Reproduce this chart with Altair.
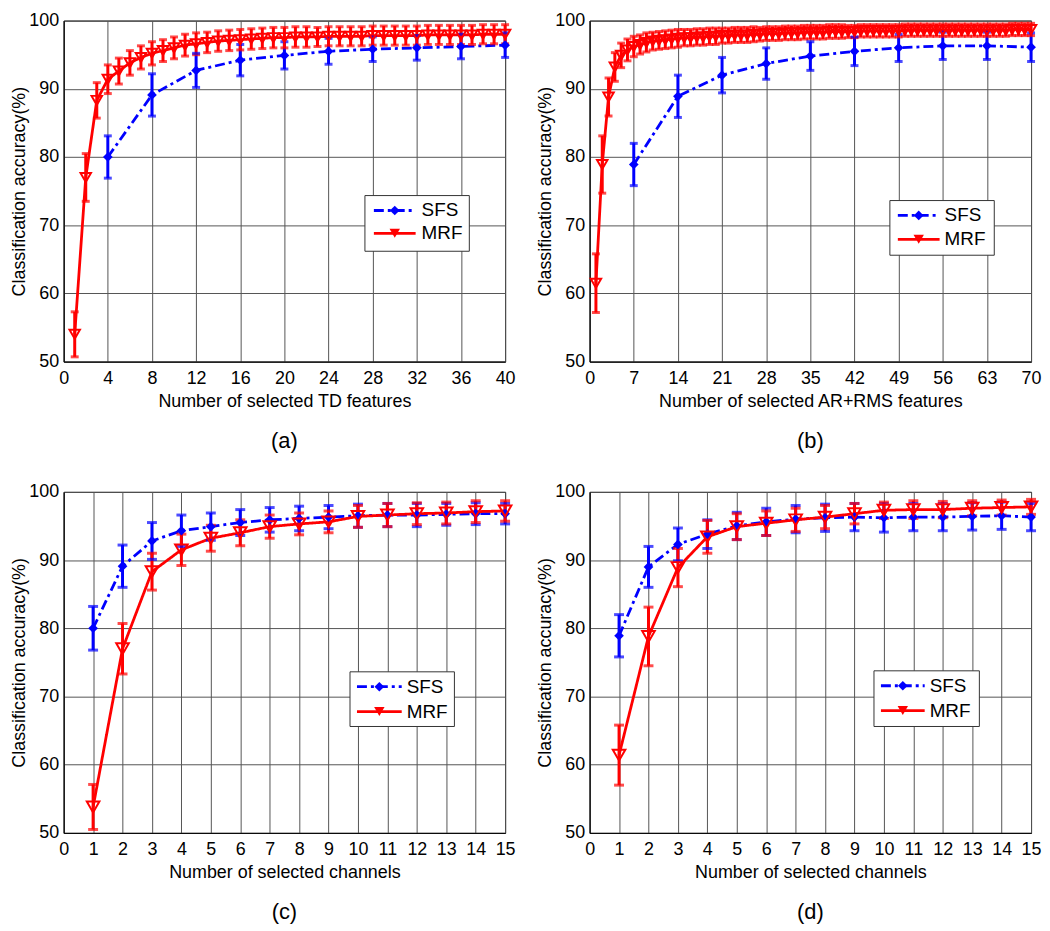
import altair as alt
import pandas as pd

FONT = "Liberation Sans"
BLUE = "#0000FF"
RED = "#FF0000"

# ---------------- panel (a): TD features ----------------
a_sfs_x = [4, 8, 12, 16, 20, 24, 28, 32, 36, 40]
a_sfs_y = [80.0, 89.1, 92.7, 94.2, 94.9, 95.5, 95.8, 96.0, 96.2, 96.4]
a_sfs_e = [3.1, 3.1, 2.5, 2.3, 2.0, 1.9, 1.8, 1.8, 1.8, 1.8]
a_mrf_x = list(range(1, 41))
a_mrf_y = [54.0, 77.0, 88.3, 91.4, 92.6, 93.8, 94.6, 95.2, 95.6, 96.0,
           96.4, 96.6, 96.8, 97.0, 97.1, 97.2, 97.3, 97.4, 97.5, 97.5,
           97.6, 97.6, 97.6, 97.7, 97.7, 97.7, 97.7, 97.8, 97.8, 97.8,
           97.8, 97.8, 97.9, 97.9, 97.9, 97.9, 97.9, 98.0, 98.0, 98.0]
a_mrf_e = [3.3, 3.5, 2.6, 2.1, 1.9, 1.8, 1.7, 1.7, 1.6, 1.6,
           1.6, 1.6, 1.5, 1.5, 1.5, 1.5, 1.5, 1.5, 1.5, 1.5,
           1.5, 1.5, 1.4, 1.4, 1.4, 1.4, 1.4, 1.4, 1.4, 1.4,
           1.4, 1.4, 1.4, 1.4, 1.4, 1.4, 1.4, 1.4, 1.4, 1.4]

# ---------------- panel (b): AR+RMS features ----------------
b_sfs_x = [7, 14, 21, 28, 35, 42, 49, 56, 63, 70]
b_sfs_y = [78.9, 88.9, 92.0, 93.7, 94.8, 95.5, 96.0, 96.3, 96.3, 96.1]
b_sfs_e = [3.1, 3.1, 2.6, 2.3, 2.1, 2.1, 2.0, 2.0, 2.0, 2.1]
b_mrf_x = list(range(1, 71))
b_mrf_y = [61.5, 78.9, 88.8, 93.2, 94.9, 95.7, 96.2, 96.5, 96.8, 97.0,
           97.1, 97.2, 97.3, 97.4, 97.5, 97.5, 97.6, 97.6, 97.7, 97.7,
           97.8, 97.8, 97.9, 97.9, 97.9, 98.0, 98.0, 98.1, 98.1, 98.1,
           98.2, 98.2, 98.2, 98.3, 98.3, 98.3, 98.3, 98.4, 98.4, 98.4,
           98.4, 98.4, 98.5, 98.5, 98.5, 98.5, 98.5, 98.5, 98.5, 98.6,
           98.6, 98.6, 98.6, 98.6, 98.6, 98.6, 98.6, 98.6, 98.6, 98.6,
           98.6, 98.6, 98.6, 98.6, 98.6, 98.6, 98.7, 98.7, 98.7, 98.7]
b_mrf_e = [4.3, 4.2, 2.8, 2.1, 1.8, 1.6, 1.5, 1.4, 1.4, 1.3,
           1.3, 1.3, 1.3, 1.3, 1.2, 1.2, 1.2, 1.2, 1.2, 1.2,
           1.1, 1.1, 1.1, 1.1, 1.1, 1.1, 1.0, 1.0, 1.0, 1.0,
           1.0, 1.0, 1.0, 1.0, 1.0, 1.0, 1.0, 1.0, 1.0, 1.0,
           0.9, 0.9, 0.9, 0.9, 0.9, 0.9, 0.9, 0.9, 0.9, 0.9,
           0.9, 0.9, 0.9, 0.9, 0.9, 0.9, 0.9, 0.9, 0.9, 0.9,
           0.9, 0.9, 0.9, 0.9, 0.9, 0.9, 0.9, 0.9, 0.9, 0.9]

# ---------------- panel (c): channels (TD) ----------------
c_x = list(range(1, 16))
c_sfs_y = [80.0, 89.1, 92.8, 94.3, 94.9, 95.5, 95.9, 96.1, 96.3, 96.5, 96.6, 96.6, 96.7, 96.8, 96.8]
c_sfs_e = [3.2, 3.1, 2.7, 2.3, 2.0, 1.9, 1.8, 1.8, 1.7, 1.7, 1.7, 1.7, 1.6, 1.6, 1.5]
c_mrf_y = [53.8, 77.0, 88.3, 91.5, 93.2, 94.0, 94.9, 95.3, 95.6, 96.4, 96.6, 96.8, 96.9, 97.1, 97.2]
c_mrf_e = [3.3, 3.7, 2.7, 2.3, 1.9, 1.9, 1.7, 1.6, 1.6, 1.6, 1.7, 1.6, 1.6, 1.6, 1.5]

# ---------------- panel (d): channels (AR+RMS) ----------------
d_x = list(range(1, 16))
d_sfs_y = [78.9, 89.0, 92.3, 93.8, 95.0, 95.6, 96.0, 96.2, 96.3, 96.2, 96.3, 96.3, 96.4, 96.5, 96.3]
d_sfs_e = [3.1, 3.0, 2.4, 2.1, 2.0, 2.0, 2.0, 2.0, 2.0, 2.1, 2.0, 2.0, 2.0, 2.0, 2.0]
d_mrf_y = [61.4, 78.8, 88.9, 93.4, 94.9, 95.4, 95.9, 96.3, 96.8, 97.3, 97.4, 97.4, 97.6, 97.7, 97.8]
d_mrf_e = [4.4, 4.3, 2.8, 2.4, 1.9, 1.8, 1.7, 1.7, 1.5, 1.2, 1.3, 1.2, 1.1, 1.1, 1.1]

y_ticks = [50, 60, 70, 80, 90, 100]
series_names = ["SFS", "MRF"]

W, H = 444, 343
one = pd.DataFrame({"k": [0]})


def frame(name, xs, ys, es):
    return pd.DataFrame({
        "series": name,
        "x": xs,
        "y": ys,
        "lo": [v - e for v, e in zip(ys, es)],
        "hi": [v + e for v, e in zip(ys, es)],
    })


def panel(sfs, mrf, xmax, xstep, xtitle, label, leg, cap, tri):
    df = pd.concat([frame("SFS", *sfs), frame("MRF", *mrf)], ignore_index=True)
    xaxis = alt.Axis(values=list(range(0, xmax + 1, xstep)), title=xtitle,
                     labelOverlap=False, labelFlush=False)
    yaxis = alt.Axis(values=y_ticks, title="Classification accuracy(%)", labelOverlap=False)
    xsc = alt.Scale(domain=[0, xmax], nice=False)
    ysc = alt.Scale(domain=[50, 100], nice=False)
    X = lambda f: alt.X(f, scale=xsc, axis=xaxis)
    Y = lambda f: alt.Y(f, scale=ysc, axis=yaxis)
    col = alt.Color("series:N", scale=alt.Scale(domain=series_names, range=[BLUE, RED]), legend=None)
    dash = alt.StrokeDash("series:N", scale=alt.Scale(domain=series_names, range=[[10, 4, 3, 4], [1, 0]]),
                          legend=None)
    base = alt.Chart(df)
    err = base.mark_rule(strokeWidth=3).encode(x=X("x:Q"), y=Y("lo:Q"), y2="hi:Q", color=col)
    cap_lo = base.mark_tick(orient="horizontal", thickness=3, size=cap).encode(x=X("x:Q"), y=Y("lo:Q"), color=col)
    cap_hi = base.mark_tick(orient="horizontal", thickness=3, size=cap).encode(x=X("x:Q"), y=Y("hi:Q"), color=col)
    line = base.mark_line(strokeWidth=2.8).encode(x=X("x:Q"), y=Y("y:Q"), color=col, strokeDash=dash, order="x:Q")
    pts_s = base.transform_filter(alt.datum.series == "SFS").mark_point(
        shape="diamond", filled=True, size=95, opacity=1).encode(x=X("x:Q"), y=Y("y:Q"), color=col)
    pts_m = base.transform_filter(alt.datum.series == "MRF").mark_point(
        shape="triangle-down", filled=False, size=tri, strokeWidth=2, opacity=1).encode(
        x=X("x:Q"), y=Y("y:Q"), color=col)

    bx0, bx1, by0, by1, lx0, lx1, ys1, ys2, tx = leg
    lb = alt.Chart(one)
    box = lb.mark_rect(fill="white", stroke="#333", strokeWidth=1).encode(
        x=alt.value(bx0), x2=alt.value(bx1), y=alt.value(by0), y2=alt.value(by1))
    l1 = lb.mark_rule(color=BLUE, strokeWidth=2.8, strokeDash=[10, 4, 3, 4]).encode(
        x=alt.value(lx0), x2=alt.value(lx1), y=alt.value(ys1))
    m1 = lb.mark_point(shape="diamond", filled=True, size=95, color=BLUE, opacity=1).encode(
        x=alt.value((lx0 + lx1) / 2), y=alt.value(ys1))
    t1 = lb.mark_text(align="left", baseline="middle", fontSize=19, font=FONT, color="black").encode(
        x=alt.value(tx), y=alt.value(ys1), text=alt.value("SFS"))
    l2 = lb.mark_rule(color=RED, strokeWidth=2.8).encode(
        x=alt.value(lx0), x2=alt.value(lx1), y=alt.value(ys2))
    m2 = lb.mark_point(shape="triangle-down", filled=True, size=110, color=RED, opacity=1).encode(
        x=alt.value((lx0 + lx1) / 2), y=alt.value(ys2))
    t2 = lb.mark_text(align="left", baseline="middle", fontSize=19, font=FONT, color="black").encode(
        x=alt.value(tx), y=alt.value(ys2), text=alt.value("MRF"))

    return alt.layer(line, err, cap_lo, cap_hi, pts_s, pts_m, box, l1, m1, t1, l2, m2, t2).properties(
        width=W, height=H,
        title=alt.TitleParams(label, orient="bottom", fontSize=22, fontWeight="normal", font=FONT,
                              color="black", offset=21))


pa = panel((a_sfs_x, a_sfs_y, a_sfs_e), (a_mrf_x, a_mrf_y, a_mrf_e), 40, 4,
           "Number of selected TD features", "(a)",
           (303, 408, 176, 232, 312, 354, 191, 214, 360), 8, 110)
pb = panel((b_sfs_x, b_sfs_y, b_sfs_e), (b_mrf_x, b_mrf_y, b_mrf_e), 70, 7,
           "Number of selected AR+RMS features", "(b)",
           (302, 407, 181, 236, 310, 352, 196, 220, 357), 8, 110)
pc = panel((c_x, c_sfs_y, c_sfs_e), (c_x, c_mrf_y, c_mrf_e), 15, 1,
           "Number of selected channels", "(c)",
           (288, 393, 181, 236, 295, 340, 196, 221, 345), 10, 160)
pd_ = panel((d_x, d_sfs_y, d_sfs_e), (d_x, d_mrf_y, d_mrf_e), 15, 1,
            "Number of selected channels", "(d)",
            (286, 392, 180, 236, 293, 337, 195, 220, 342), 10, 160)

chart = alt.vconcat(
    alt.hconcat(pa, pb, spacing=20),
    alt.hconcat(pc, pd_, spacing=20),
    spacing=29,
).properties(
    padding={"left": 2, "top": 0, "right": 0, "bottom": 0},
).configure_view(
    stroke="black", strokeWidth=1
).configure_axis(
    labelFont=FONT, titleFont=FONT, labelFontSize=18, titleFontSize=18,
    labelColor="black", titleColor="black", titleFontWeight="normal",
    grid=True, gridColor="#555", gridOpacity=1, gridWidth=1,
    domainColor="black", ticks=False, labelOverlap=False,
).configure_axisY(
    titlePadding=0, labelPadding=5
).configure_axisX(
    titlePadding=5, labelPadding=8, labelOverlap=False, labelFlush=False
).configure_title(
    font=FONT
)

chart.save("out.html", embed_options={"renderer": "svg", "actions": False})
